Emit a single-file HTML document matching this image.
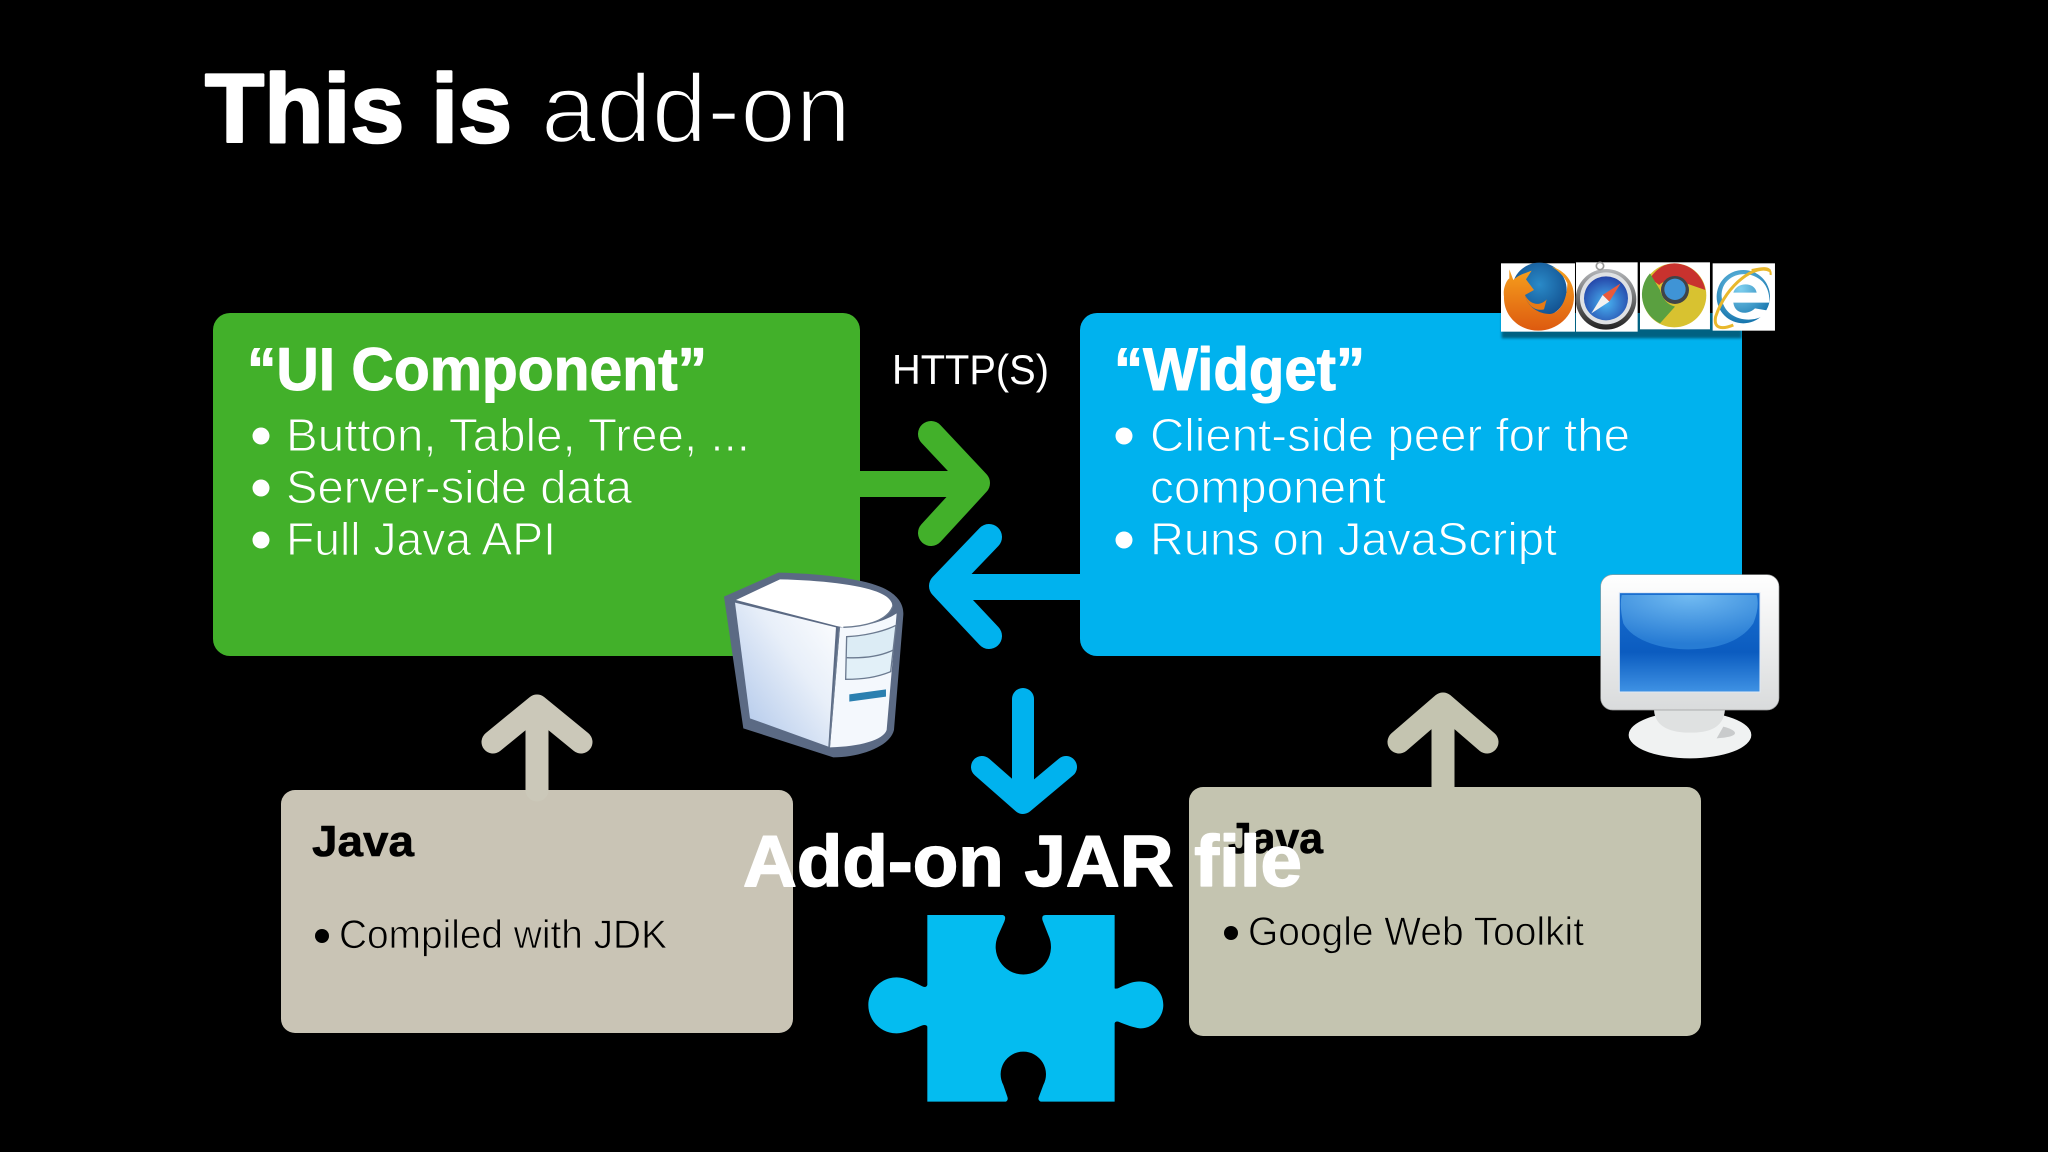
<!DOCTYPE html>
<html><head><meta charset="utf-8"><style>
html,body{margin:0;padding:0;background:#000;width:2048px;height:1152px;overflow:hidden}
svg{display:block}
text{font-family:"Liberation Sans",sans-serif;stroke-linejoin:round}
</style></head><body>
<svg width="2048" height="1152" viewBox="0 0 2048 1152" xmlns="http://www.w3.org/2000/svg">
<defs>
<linearGradient id="srvL" x1="0" y1="1" x2="1" y2="0"><stop offset="0" stop-color="#a9c2e8"/><stop offset=".6" stop-color="#e8eff9"/><stop offset="1" stop-color="#fff"/></linearGradient>
<linearGradient id="scr" x1="0" y1="0" x2="0" y2="1"><stop offset="0" stop-color="#1a6fd0"/><stop offset=".6" stop-color="#0b5cc0"/><stop offset="1" stop-color="#3f92e4"/></linearGradient>
<radialGradient id="gl" cx=".5" cy="0" r=".9"><stop offset="0" stop-color="#7cc4f6"/><stop offset="1" stop-color="#2a7fd6"/></radialGradient>
<linearGradient id="frm" x1="0" y1="0" x2="0" y2="1"><stop offset="0" stop-color="#fff"/><stop offset="1" stop-color="#d9dbdc"/></linearGradient>
<radialGradient id="ffg" cx=".5" cy=".4" r=".6"><stop offset="0" stop-color="#2a8ac8"/><stop offset="1" stop-color="#12508f"/></radialGradient>
<linearGradient id="ffo" x1="0" y1="0" x2="0" y2="1"><stop offset="0" stop-color="#f7a21d"/><stop offset="1" stop-color="#dd5a10"/></linearGradient>
<radialGradient id="saf" cx=".5" cy=".6" r=".6"><stop offset="0" stop-color="#49b4f2"/><stop offset="1" stop-color="#2444a8"/></radialGradient>
<radialGradient id="ieb" cx=".45" cy=".35" r=".7"><stop offset="0" stop-color="#7fd0ef"/><stop offset="1" stop-color="#0e6ea8"/></radialGradient>
<linearGradient id="ring" x1="0" y1="0" x2="0" y2="1"><stop offset="0" stop-color="#b5b7ba"/><stop offset="1" stop-color="#222"/></linearGradient>
<filter id="sh" x="-20%" y="-20%" width="140%" height="150%"><feGaussianBlur stdDeviation="4"/></filter>
</defs>
<rect width="2048" height="1152" fill="#000"/>

<text x="205" y="142" font-size="97" font-weight="700" fill="#fff" stroke="#fff" stroke-width="2.5" textLength="307" lengthAdjust="spacingAndGlyphs">This is</text>
<text x="541" y="142" font-size="97" fill="#fff" stroke="#000" stroke-width="2.5" textLength="310" lengthAdjust="spacingAndGlyphs">add-on</text>

<rect x="213" y="313" width="647" height="343" rx="17" fill="#42b02a"/>
<rect x="1080" y="313" width="662" height="343" rx="17" fill="#00b2ee"/>
<rect x="281" y="790" width="512" height="243" rx="14" fill="#c9c4b5"/>
<rect x="1189" y="787" width="512" height="249" rx="14" fill="#c4c4b0"/>

<g fill="none" stroke-linecap="round" stroke-linejoin="round">
<g stroke="#42b02a" stroke-width="26"><path d="M860 484H970"/><path d="M931 434L977 483L931 533"/></g>
<g stroke="#00b2ee" stroke-width="26"><path d="M1081 587H950"/><path d="M989 537L942 586L989 636"/></g>
<g stroke="#00b2ee" stroke-width="22"><path d="M1023 699V795"/><path d="M982 767L1023 803L1066 767"/></g>
<g stroke="#cbc8b9" stroke-width="23"><path d="M537 790V715"/><path d="M493 742L537 706L581 742"/></g>
<g stroke="#c4c4b0" stroke-width="23"><path d="M1443 787V713"/><path d="M1399 742L1443 704L1487 742"/></g>
</g>

<g fill="#fff">
<text x="247" y="390" font-size="60" font-weight="700" stroke="#fff" stroke-width="1" textLength="460" lengthAdjust="spacingAndGlyphs">“UI Component”</text>
<circle cx="261" cy="436" r="8.5"/><circle cx="261" cy="488" r="8.5"/><circle cx="261" cy="540" r="8.5"/>
<g stroke="#42b02a" stroke-width="1">
<text x="286" y="451" font-size="46" textLength="464" lengthAdjust="spacingAndGlyphs">Button, Table, Tree, ...</text>
<text x="286" y="503" font-size="46" textLength="346" lengthAdjust="spacingAndGlyphs">Server-side data</text>
<text x="286" y="555" font-size="46" textLength="270" lengthAdjust="spacingAndGlyphs">Full Java API</text>
</g>
<text x="892" y="384" font-size="42" textLength="157" lengthAdjust="spacingAndGlyphs">HTTP(S)</text>
<text x="1114" y="390" font-size="60" font-weight="700" stroke="#fff" stroke-width="1" textLength="251" lengthAdjust="spacingAndGlyphs">“Widget”</text>
<circle cx="1124" cy="436" r="8.5"/><circle cx="1124" cy="540" r="8.5"/>
<g stroke="#00b2ee" stroke-width="1">
<text x="1150" y="451" font-size="46" textLength="480" lengthAdjust="spacingAndGlyphs">Client-side peer for the</text>
<text x="1150" y="503" font-size="46" textLength="236" lengthAdjust="spacingAndGlyphs">component</text>
<text x="1150" y="555" font-size="46" textLength="407" lengthAdjust="spacingAndGlyphs">Runs on JavaScript</text>
</g>
</g>
<g fill="#000">
<text x="312" y="856" font-size="44" font-weight="700" stroke="#000" stroke-width=".6" textLength="102" lengthAdjust="spacingAndGlyphs">Java</text>
<circle cx="322" cy="936" r="7"/>
<text x="339" y="948" font-size="40" stroke="#c9c4b5" stroke-width=".8" textLength="328" lengthAdjust="spacingAndGlyphs">Compiled with JDK</text>
<text x="1228" y="853" font-size="44" font-weight="700" stroke="#000" stroke-width=".6" textLength="95" lengthAdjust="spacingAndGlyphs">Java</text>
<circle cx="1231" cy="933" r="7"/>
<text x="1248" y="945" font-size="40" stroke="#c4c4b0" stroke-width=".8" textLength="336" lengthAdjust="spacingAndGlyphs">Google Web Toolkit</text>
</g>

<!-- browser icons -->
<g transform="translate(1450 240) scale(.3333)">
<rect x="155" y="90" width="720" height="205" fill="#000" opacity=".45" filter="url(#sh)"/>
<rect x="153" y="70" width="222" height="205" fill="#fff"/>
<rect x="378" y="67" width="185" height="208" fill="#fff"/>
<rect x="570" y="67" width="210" height="201" fill="#fff"/>
<rect x="788" y="70" width="187" height="202" fill="#fff"/>
<circle cx="268" cy="150" r="82" fill="url(#ffg)"/>
<path d="M178 88L190 120C205 105 225 100 245 92L228 118L252 150L225 165C232 200 265 222 300 222C335 218 352 170 352 130C342 108 325 92 305 80C345 92 372 125 372 170C372 230 320 272 265 272C205 272 160 225 162 170C158 145 170 120 178 115Z" fill="url(#ffo)"/>
<path d="M225 165C240 195 270 200 290 178L282 208C255 215 232 195 225 165Z" fill="#e87a14"/>
<circle cx="468" cy="178" r="91" fill="url(#ring)"/><circle cx="468" cy="175" r="78" fill="#dfe1e4"/><circle cx="468" cy="175" r="66" fill="url(#saf)"/>
<circle cx="450" cy="78" r="11" fill="none" stroke="#999" stroke-width="5"/>
<path d="M512 130L478 185L458 165Z" fill="#ea5a3a"/><path d="M424 220L458 165L478 185Z" fill="#f2f2f2"/>
<circle cx="673" cy="166" r="96" fill="#d8c230"/>
<path d="M673 70A96 96 0 0 1 766 150L680 120Q640 120 628 135L600 115Q630 70 673 70Z" fill="#c8322e"/>
<path d="M600 100A96 96 0 0 0 630 250L675 200Q640 190 630 150Z" fill="#5aa040"/>
<circle cx="675" cy="150" r="42" fill="#404448"/><circle cx="675" cy="148" r="32" fill="#3f94d6"/>
<circle cx="880" cy="170" r="80" fill="url(#ieb)"/>
<path d="M940 188H850C855 225 895 225 915 205L955 212C930 255 820 250 815 170C812 110 880 85 925 115C950 130 960 160 958 188ZM920 158C915 125 860 125 850 158Z" fill="#fff"/>
<path d="M960 92C920 70 830 130 797 230C790 265 815 270 850 255" fill="none" stroke="#e9b82c" stroke-width="9"/>
<path d="M905 90C930 85 965 75 962 105" fill="none" stroke="#e9b82c" stroke-width="6"/>
</g>

<!-- server -->
<g transform="translate(700 550) scale(.3333)">
<path d="M72 140L235 68C350 70 480 85 540 110C590 130 612 160 610 195L582 540C570 590 480 622 400 622L130 535Z" fill="#5b6a84"/>
<path d="M105 158L408 232L385 590L150 505Z" fill="url(#srvL)"/>
<path d="M108 150L240 88C360 90 480 105 530 125C570 140 582 160 575 175C550 215 490 232 430 232L410 228Z" fill="#fff"/>
<path d="M420 232C500 232 560 210 590 190L560 540C550 570 480 590 390 592Z" fill="#f4f8fd"/>
<path d="M440 260C490 258 550 245 588 226L580 300C540 320 490 325 440 322Z" fill="#dcecf5"/>
<path d="M440 325C490 325 540 320 580 302L572 365C530 382 490 388 437 388Z" fill="#e2f0f8"/>
<path d="M440 260C490 258 550 245 588 226L572 365C530 382 490 388 437 388Z" fill="none" stroke="#6b7a90" stroke-width="4"/>
<path d="M440 323C490 325 540 320 580 300" fill="none" stroke="#6b7a90" stroke-width="4"/>
<path d="M430 232C490 230 560 215 578 170" fill="none" stroke="#6b7a90" stroke-width="4"/>
<path d="M418 232L388 592" stroke="#6b7a90" stroke-width="4" fill="none"/>
<path d="M448 433L558 418L558 440L448 455Z" fill="#2a7fb0"/>
</g>

<!-- monitor -->
<g transform="translate(1580 560) scale(.3333)">
<ellipse cx="330" cy="525" rx="184" ry="70" fill="#f0f2f2"/>
<path d="M222 450C225 505 280 518 330 518C385 518 430 505 435 450Z" fill="#dfe1e1"/>
<path d="M430 500C470 510 490 530 410 535Z" fill="#c9cbcc"/>
<rect x="62" y="44" width="535" height="406" rx="36" fill="url(#frm)" stroke="#9a9c9c" stroke-width="2"/>
<rect x="118" y="98" width="422" height="298" fill="url(#scr)" stroke="#dfe8f5" stroke-width="3"/>
<path d="M125 105H530Q540 140 520 190C480 250 400 268 325 268C250 268 160 245 130 190Q118 140 125 105Z" fill="url(#gl)" opacity=".9"/>
</g>

<!-- puzzle -->
<g transform="translate(840 880) scale(.3333)">
<path d="M262 105L488 105Q500 107 493 125L475 165A83 83 0 1 0 625 165L608 122Q603 105 617 105L824 105L824 325Q830 328 840 322C870 308 885 303 905 305C945 308 970 340 970 375C970 415 935 447 900 445C880 443 860 435 835 425Q826 423 824 430L824 665L602 665Q592 660 597 650L610 615A68 68 0 1 0 490 615L502 650Q506 660 498 665L262 665L262 440Q258 432 245 437C220 447 195 460 170 460C120 460 85 420 85 375C85 330 125 292 170 292C195 292 220 305 245 318Q258 325 262 315Z" fill="#04bcf0"/>
</g>

<text x="743" y="886" font-size="72" font-weight="700" fill="#fff" stroke="#fff" stroke-width="1.5" textLength="559" lengthAdjust="spacingAndGlyphs">Add-on JAR file</text>
</svg>
</body></html>
